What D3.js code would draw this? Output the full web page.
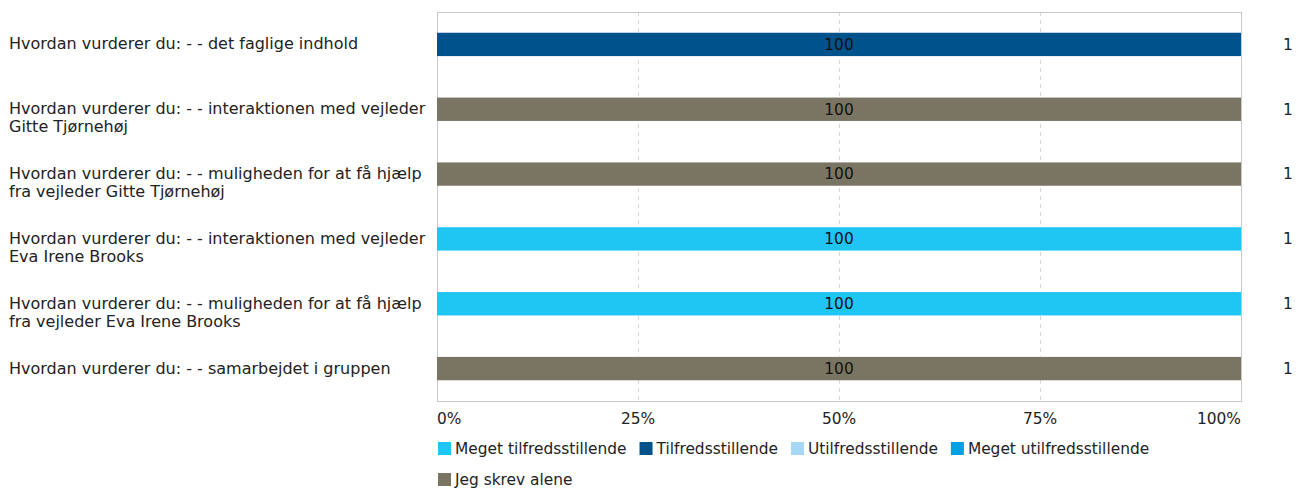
<!DOCTYPE html>
<html>
<head>
<meta charset="utf-8">
<script src="https://cdn.jsdelivr.net/npm/d3@7"></script>
<style>
  body { margin: 0; background: #fff; }
  text { font-family: "DejaVu Sans", Verdana, sans-serif; fill: #222; }
</style>
</head>
<body>
<script>
var questions = [
    "Hvordan vurderer du: - - det faglige indhold",
    "Hvordan vurderer du: - - interaktionen med vejleder Gitte Tjørnehøj",
    "Hvordan vurderer du: - - muligheden for at få hjælp fra vejleder Gitte Tjørnehøj",
    "Hvordan vurderer du: - - interaktionen med vejleder Eva Irene Brooks",
    "Hvordan vurderer du: - - muligheden for at få hjælp fra vejleder Eva Irene Brooks",
    "Hvordan vurderer du: - - samarbejdet i gruppen"
];
var seriesNames = ["Meget tilfredsstillende", "Tilfredsstillende", "Utilfredsstillende", "Meget utilfredsstillende", "Jeg skrev alene"];
var seriesColors = ["#1fc5f3", "#00538a", "#a6d7f6", "#00a0e2", "#7a7562"];
// percent per series, one row per question
var meget = [0, 0, 0, 100, 100, 0];
var tilfreds = [100, 0, 0, 0, 0, 0];
var utilfreds = [0, 0, 0, 0, 0, 0];
var megetUtil = [0, 0, 0, 0, 0, 0];
var alene = [0, 100, 100, 0, 0, 100];
var counts = [1, 1, 1, 1, 1, 1];
var tickValues = [0, 25, 50, 75, 100];

var W = 1306, H = 488, fs = "15.4px", lfs = "16px";
var pl = 437, pr = 1241, pt = 12, pb = 401;

var svg = d3.select("body").append("svg").attr("width", W).attr("height", H);

var x = d3.scaleLinear().domain([0, 100]).range([pl, pr]);
var y = d3.scaleBand().domain(d3.range(questions.length)).range([pt, pb]).paddingInner(0.64).paddingOuter(0.32);

var rows = questions.map(function(q, i) {
    var r = {i: i};
    r[0] = meget[i]; r[1] = tilfreds[i]; r[2] = utilfreds[i]; r[3] = megetUtil[i]; r[4] = alene[i];
    return r;
});
var stacked = d3.stack().keys([0, 1, 2, 3, 4])(rows);

// grid
svg.append("g").selectAll("line")
    .data(tickValues.slice(1, -1))
  .enter().append("line")
    .attr("x1", function(d) { return Math.round(x(d)) + 0.5; })
    .attr("x2", function(d) { return Math.round(x(d)) + 0.5; })
    .attr("y1", pt).attr("y2", pb)
    .style("stroke", "#d8d8d8")
    .style("stroke-dasharray", "4,4");

svg.append("rect")
    .attr("x", pl + 0.5).attr("y", pt + 0.5)
    .attr("width", pr - pl).attr("height", pb - pt)
    .style("fill", "none").style("stroke", "#c8c8c8");

// bars
var layers = svg.selectAll("g.layer")
    .data(stacked)
  .enter().append("g")
    .attr("class", "layer")
    .attr("fill", function(d) { return seriesColors[d.key]; });

layers.selectAll("rect")
    .data(function(d) { return d.filter(function(s) { return s[1] - s[0] > 0; }); })
  .enter().append("rect")
    .attr("x", function(d) { return x(d[0]); })
    .attr("y", function(d) { return y(d.data.i); })
    .attr("width", function(d) { return x(d[1]) - x(d[0]); })
    .attr("height", y.bandwidth());

layers.selectAll("text")
    .data(function(d) { return d.filter(function(s) { return s[1] - s[0] > 0; }); })
  .enter().append("text")
    .attr("x", function(d) { return x((d[0] + d[1]) / 2); })
    .attr("y", function(d) { return y(d.data.i) + y.bandwidth() / 2; })
    .attr("dy", "0.35em")
    .attr("text-anchor", "middle")
    .style("font-size", fs)
    .style("fill", "#111")
    .text(function(d) { return d[1] - d[0]; });

// question labels, wrapped
function wrap(str, maxW, el) {
    var words = str.split(" "), lines = [], line = "";
    words.forEach(function(w) {
        var test = line ? line + " " + w : w;
        el.text(test);
        if (el.node().getComputedTextLength() > maxW && line) {
            lines.push(line);
            line = w;
        } else {
            line = test;
        }
    });
    lines.push(line);
    return lines;
}

var measure = svg.append("text").style("font-size", lfs);
questions.forEach(function(q, i) {
    var lines = wrap(q, 426, measure);
    var cy = y(i) + y.bandwidth() / 2;
    var t = svg.append("text")
        .attr("x", 9)
        .style("font-size", lfs);
    lines.forEach(function(l, k) {
        t.append("tspan")
            .attr("x", 9)
            .attr("y", cy + 5 + k * 18)
            .text(l);
    });
});
measure.remove();

// counts
svg.append("g").selectAll("text")
    .data(counts)
  .enter().append("text")
    .attr("x", 1288)
    .attr("y", function(d, i) { return y(i) + y.bandwidth() / 2; })
    .attr("dy", "0.35em")
    .attr("text-anchor", "middle")
    .style("font-size", fs)
    .text(function(d) { return d; });

// x axis labels
svg.append("g").selectAll("text")
    .data(tickValues)
  .enter().append("text")
    .attr("x", function(d) { return x(d); })
    .attr("y", 424)
    .attr("text-anchor", function(d, i) { return i == 0 ? "start" : (i == tickValues.length - 1 ? "end" : "middle"); })
    .style("font-size", fs)
    .text(function(d) { return d + "%"; });

// legend
var lx = 438, ly = 442;
seriesNames.forEach(function(name, i) {
    var g = svg.append("g");
    var t = g.append("text")
        .style("font-size", fs)
        .text(name);
    var tw = t.node().getComputedTextLength();
    if (lx + 17 + tw > pr + 2) { lx = 438; ly += 31; }
    g.append("rect")
        .attr("x", lx).attr("y", ly)
        .attr("width", 13).attr("height", 13)
        .style("fill", seriesColors[i]);
    t.attr("x", lx + 17).attr("y", ly + 12);
    lx += 17 + tw + 13;
});
</script>
</body>
</html>
